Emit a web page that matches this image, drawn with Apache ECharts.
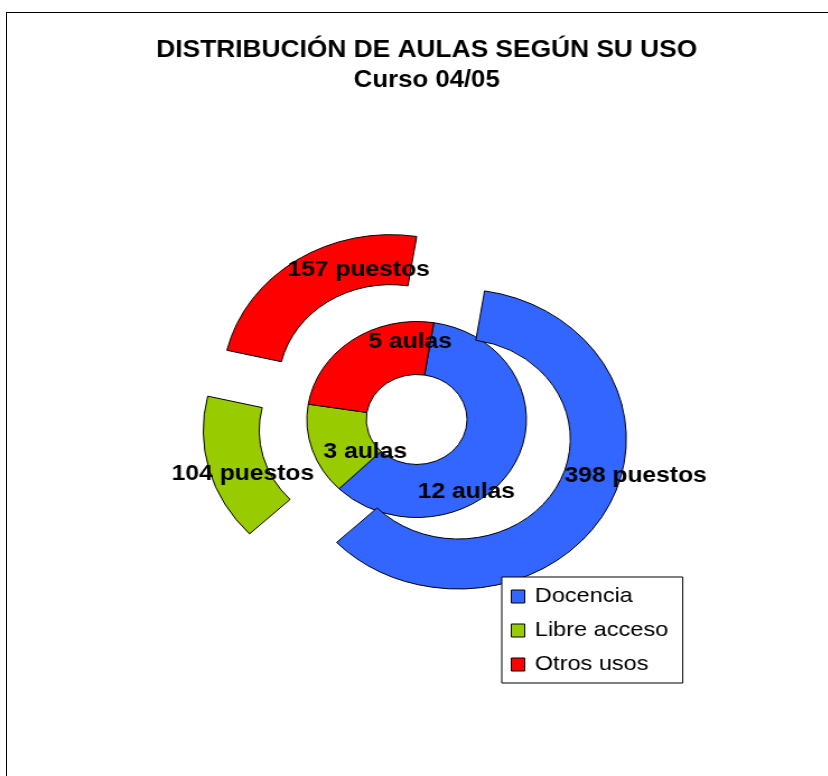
<!DOCTYPE html>
<html>
<head>
<meta charset="utf-8">
<script src="https://cdn.jsdelivr.net/npm/echarts@6/dist/echarts.min.js"></script>
<style>
  html, body { margin: 0; padding: 0; background: #fff; overflow: hidden; }
  #frame { position: absolute; left: 6px; top: 12px; width: 900px; height: 900px; border: 1px solid #000; }
  #chart { position: absolute; left: 0; top: 0; width: 739px; height: 776px; transform: scaleX(1.12); transform-origin: 0 0; }
</style>
</head>
<body>
<div id="frame"></div>
<div id="chart"></div>
<script>
// Datos
var categorias = ['Docencia', 'Libre acceso', 'Otros usos'];
var aulas = [12, 3, 5];
var puestos = [398, 104, 157];

var colores = ['#3366FF', '#99CC00', '#FF0000'];
var font = '"Liberation Sans", Arial, sans-serif';

// desplazamiento de las etiquetas (como en el original)
var despAulas = [[-22, 39], [25, 9], [38, -17]];
var despPuestos = [[45, -23], [9, 10], [43, -8]];

var myChart = echarts.init(document.getElementById('chart'));

function toData(values, selected) {
  return values.map(function (v, i) {
    return { name: categorias[i], value: v, selected: selected };
  });
}

var ringStyle = {
  borderColor: '#000',
  borderWidth: 1
};

var labelStyle = {
  show: true,
  position: 'inside',
  color: '#000',
  fontFamily: font,
  fontWeight: 'bold',
  fontSize: 22
};

var option = {
  animation: false,
  color: colores,
  title: [{
    text: 'DISTRIBUCIÓN DE AULAS SEGÚN SU USO',
    left: 381,
    top: 39,
    textAlign: 'center',
    padding: 0,
    textStyle: { color: '#000', fontFamily: font, fontWeight: 'bold', fontSize: 23.5 }
  }, {
    text: 'Curso 04/05',
    left: 381,
    top: 69,
    textAlign: 'center',
    padding: 0,
    textStyle: { color: '#000', fontFamily: font, fontWeight: 'bold', fontSize: 23 }
  }],
  legend: {
    orient: 'vertical',
    left: 448,
    top: 577,
    padding: [9, 13, 8, 8],
    itemGap: 13,
    itemWidth: 12,
    itemHeight: 13,
    icon: 'rect',
    backgroundColor: '#fff',
    borderColor: '#000',
    borderWidth: 1,
    borderRadius: 0,
    itemStyle: { borderColor: '#000', borderWidth: 1 },
    textStyle: { color: '#000', fontFamily: font, fontSize: 21, padding: [0, 0, 0, 4] },
    data: categorias
  },
  series: [{
    name: 'aulas',
    type: 'pie',
    center: [372, 419.5],
    radius: [45, 98],
    startAngle: 81,
    clockwise: true,
    avoidLabelOverlap: false,
    itemStyle: ringStyle,
    label: Object.assign({ formatter: '{c} aulas' }, labelStyle),
    labelLine: { show: false },
    labelLayout: function (p) {
      return { dx: despAulas[p.dataIndex][0], dy: despAulas[p.dataIndex][1] };
    },
    emphasis: { scale: false },
    data: toData(aulas, false)
  }, {
    name: 'puestos',
    type: 'pie',
    center: [372, 419.5],
    radius: [100, 150],
    startAngle: 81,
    clockwise: true,
    selectedMode: 'multiple',
    selectedOffset: 42,
    avoidLabelOverlap: false,
    itemStyle: ringStyle,
    label: Object.assign({ formatter: '{c} puestos' }, labelStyle),
    labelLine: { show: false },
    labelLayout: function (p) {
      return { dx: despPuestos[p.dataIndex][0], dy: despPuestos[p.dataIndex][1] };
    },
    emphasis: { scale: false },
    data: toData(puestos, true)
  }]
};

myChart.setOption(option);
</script>
</body>
</html>
